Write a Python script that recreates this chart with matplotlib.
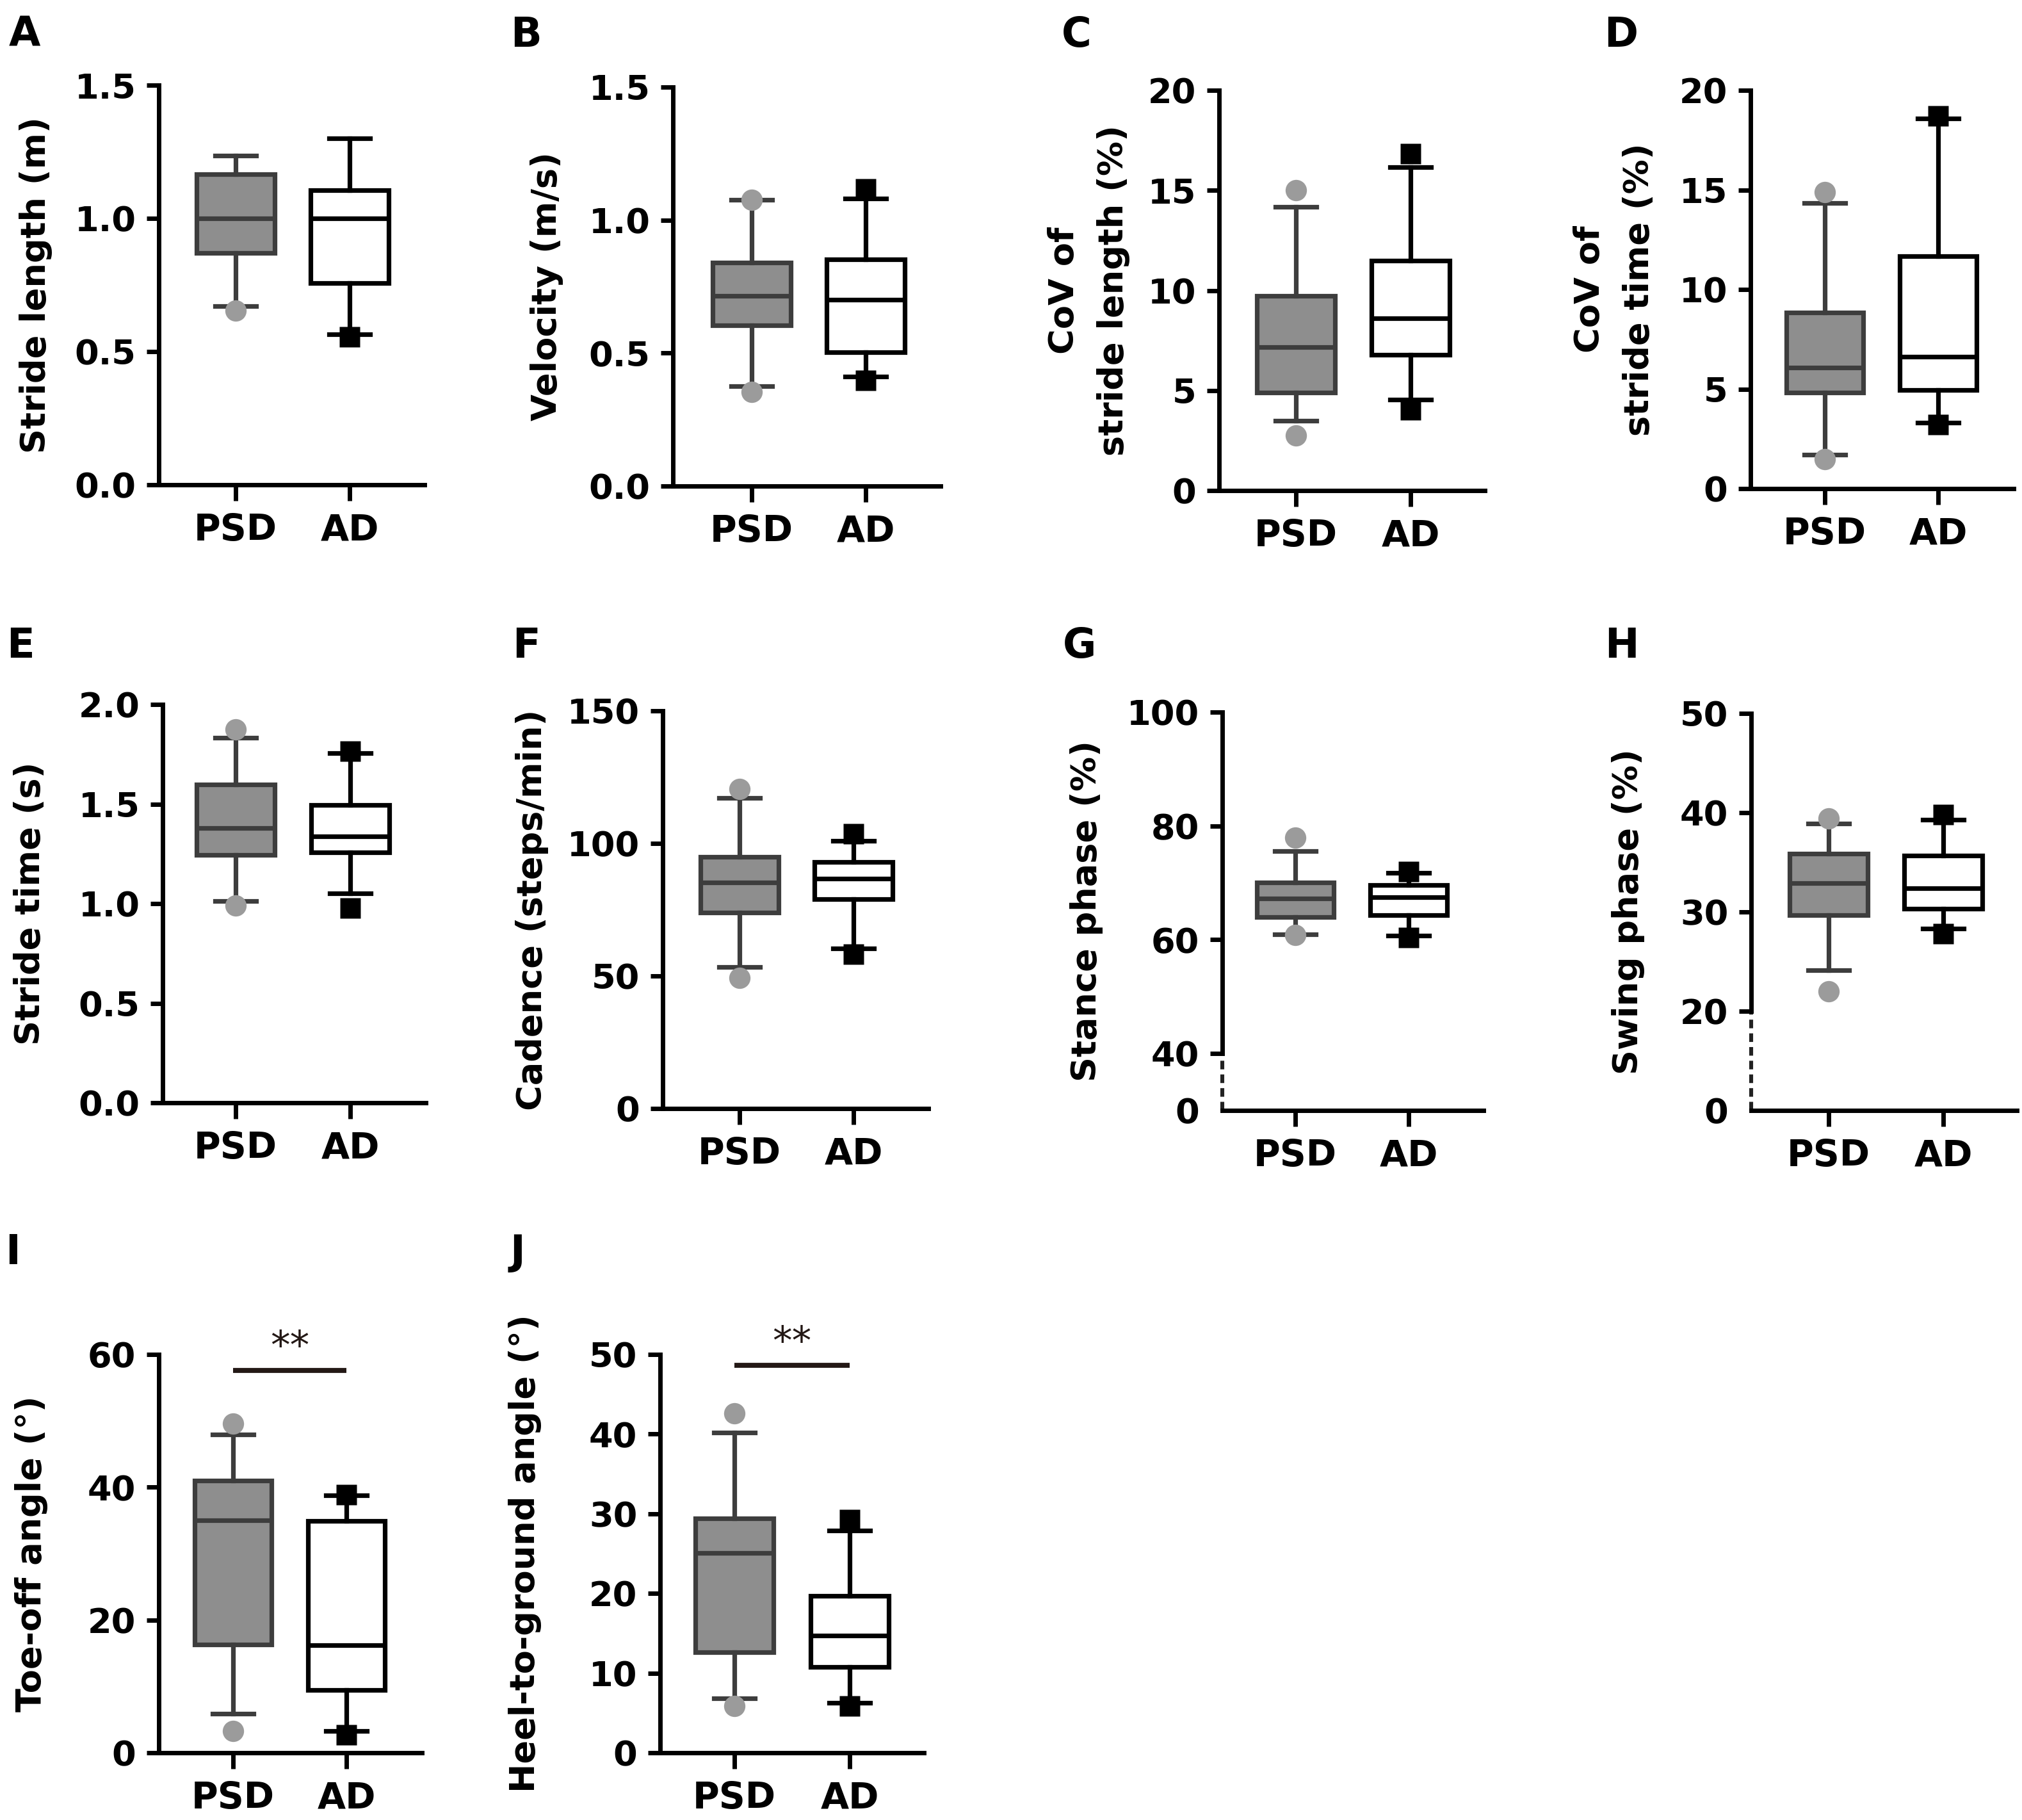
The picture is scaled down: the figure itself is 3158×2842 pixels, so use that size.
import matplotlib.pyplot as plt
from matplotlib.ticker import FixedFormatter

plt.rcParams['font.family'] = ['DejaVu Sans']
plt.rcParams['font.weight'] = 'bold'

groups = ['PSD', 'AD']

# box summaries: whisker low, Q1, median, Q3, whisker high
stride_length_psd = [0.67, 0.87, 1.00, 1.165, 1.235]
stride_length_ad = [0.565, 0.757, 1.00, 1.105, 1.30]
stride_length_out_psd = [0.653]
stride_length_out_ad = [0.555]

velocity_psd = [0.376, 0.604, 0.716, 0.84, 1.076]
velocity_ad = [0.411, 0.503, 0.701, 0.853, 1.08]
velocity_out_psd = [1.076, 0.355]
velocity_out_ad = [1.116, 0.397]

cov_length_psd = [3.49, 4.9, 7.16, 9.72, 14.18]
cov_length_ad = [4.53, 6.79, 8.62, 11.5, 16.15]
cov_length_out_psd = [15.0, 2.75]
cov_length_out_ad = [16.83, 4.04]

cov_time_psd = [1.70, 4.83, 6.08, 8.85, 14.33]
cov_time_ad = [3.32, 4.94, 6.63, 11.67, 18.6]
cov_time_out_psd = [14.88, 1.47]
cov_time_out_ad = [18.7, 3.22]

stride_time_psd = [1.012, 1.243, 1.381, 1.597, 1.834]
stride_time_ad = [1.053, 1.256, 1.339, 1.496, 1.755]
stride_time_out_psd = [1.874, 0.99]
stride_time_out_ad = [1.765, 0.979]

cadence_psd = [53.4, 73.8, 85.3, 94.9, 117.1]
cadence_ad = [60.3, 79.0, 86.6, 92.9, 100.9]
cadence_out_psd = [120.6, 49.2]
cadence_out_ad = [103.7, 58.2]

stance_psd = [61.0, 64.0, 67.3, 70.1, 75.6]
stance_ad = [60.7, 64.3, 67.5, 69.6, 71.7]
stance_out_psd = [77.9, 60.8]
stance_out_ad = [72.0, 60.4]

swing_psd = [24.1, 29.7, 32.9, 35.9, 38.9]
swing_ad = [28.3, 30.3, 32.4, 35.7, 39.3]
swing_out_psd = [39.4, 22.0]
swing_out_ad = [39.8, 27.8]

toe_off_psd = [5.9, 16.3, 35.0, 41.0, 47.9]
toe_off_ad = [3.3, 9.5, 16.2, 34.9, 38.8]
toe_off_out_psd = [49.6, 3.3]
toe_off_out_ad = [38.9, 2.7]

heel_psd = [6.8, 12.6, 25.1, 29.4, 40.2]
heel_ad = [6.3, 10.8, 14.7, 19.7, 27.9]
heel_out_psd = [42.6, 5.9]
heel_out_ad = [29.3, 5.9]

toe_off_sig_y = 57.6
heel_sig_y = 48.6

# y ticks and their labels
ticks_a = [0.0, 0.5, 1.0, 1.5]
ticks_c = [0, 5, 10, 15, 20]
ticks_e = [0.0, 0.5, 1.0, 1.5, 2.0]
ticks_f = [0, 50, 100, 150]
ticks_g = [30, 40, 60, 80, 100]
labels_g = ['0', '40', '60', '80', '100']
ticks_h = [10, 20, 30, 40, 50]
labels_h = ['0', '20', '30', '40', '50']
ticks_i = [0, 20, 40, 60]
ticks_j = [0, 10, 20, 30, 40, 50]

W, H = 3158, 2842
fig = plt.figure(figsize=(W / 200, H / 200), dpi=200)

PSD_FACE = '#8e8e8e'
PSD_LINE = '#3d3d3d'
PSD_DOT = '#9b9b9b'


def summary(vals, out):
    lo, q1, med, q3, hi = vals
    return dict(whislo=lo, q1=q1, med=med, q3=q3, whishi=hi, fliers=out)


def panel(letter, px, ylabel, psd, ad, out_psd, out_ad, ticks, labels,
          ylim, label_x, broken=None, sig=None):
    L, R, T, B, p0, p1 = px
    ax = fig.add_axes([L / W, 1 - B / H, (R - L) / W, (B - T) / H])
    lw = 2.6
    ax.bxp([summary(psd, out_psd)], positions=[0], widths=0.68,
           capwidths=0.36, patch_artist=True, manage_ticks=False,
           boxprops=dict(facecolor=PSD_FACE, edgecolor=PSD_LINE, linewidth=lw),
           whiskerprops=dict(color=PSD_LINE, linewidth=lw),
           capprops=dict(color=PSD_LINE, linewidth=lw),
           medianprops=dict(color=PSD_LINE, linewidth=lw),
           flierprops=dict(marker='o', markerfacecolor=PSD_DOT,
                           markeredgecolor='none', markersize=12))
    ax.bxp([summary(ad, out_ad)], positions=[1], widths=0.68,
           capwidths=0.36, patch_artist=True, manage_ticks=False,
           boxprops=dict(facecolor='white', edgecolor='black', linewidth=lw),
           whiskerprops=dict(color='black', linewidth=lw),
           capprops=dict(color='black', linewidth=lw),
           medianprops=dict(color='black', linewidth=lw),
           flierprops=dict(marker='s', markerfacecolor='black',
                           markeredgecolor='none', markersize=11.5))
    ax.set_xlim((L - p0) / (p1 - p0), (R - p0) / (p1 - p0))
    ax.set_ylim(*ylim)
    ax.set_xticks([0, 1])
    ax.set_xticklabels(groups)
    ax.set_yticks(ticks)
    if labels is not None:
        ax.yaxis.set_major_formatter(FixedFormatter(labels))
    for s in ['top', 'right']:
        ax.spines[s].set_visible(False)
    for s in ['left', 'bottom']:
        ax.spines[s].set_linewidth(2.5)
    ax.tick_params(axis='y', length=6.8, width=2.5, labelsize=19.5, pad=6)
    ax.tick_params(axis='x', length=9, width=2.5, labelsize=20.5, pad=7)
    ax.set_ylabel(ylabel, fontsize=19.5, fontweight='bold', linespacing=1.6)
    ax.yaxis.set_label_coords(label_x, 0.5)
    if broken is not None:
        ax.spines['left'].set_bounds(broken, ylim[1])
        ax.plot([0, 0], [ylim[0], broken], transform=ax.get_yaxis_transform(),
                color='#222222', lw=2.2, ls=(0, (2.2, 1.3)), clip_on=False)
        ax.yaxis.get_major_ticks()[0].tick1line.set_visible(False)
    if sig is not None:
        ax.plot([0, 1], [sig, sig], color='#231815', lw=2.8, clip_on=False,
                solid_capstyle='butt')
        ax.annotate('**', (0.5, sig), xytext=(0, 2), textcoords='offset points',
                    ha='center', va='bottom', fontsize=22, fontweight='normal',
                    color='#231815', annotation_clip=False)
    return ax


# pixel layout: left, right, top, bottom of each frame, and x of PSD / AD
panel('A', (248, 663, 133, 757, 368, 546), 'Stride length (m)',
      stride_length_psd, stride_length_ad, stride_length_out_psd,
      stride_length_out_ad, ticks_a, ['0.0', '0.5', '1.0', '1.5'], (0, 1.5), -0.40)
panel('B', (1051, 1469, 136, 759, 1174, 1352), 'Velocity (m/s)',
      velocity_psd, velocity_ad, velocity_out_psd, velocity_out_ad,
      ticks_a, ['0.0', '0.5', '1.0', '1.5'], (0, 1.5), -0.41)
panel('C', (1904, 2319, 141, 766, 2024, 2203), 'CoV of\nstride length (%)',
      cov_length_psd, cov_length_ad, cov_length_out_psd, cov_length_out_ad,
      ticks_c, None, (0, 20), -0.335)
panel('D', (2734, 3145, 141, 763, 2850, 3027), 'CoV of\nstride time (%)',
      cov_time_psd, cov_time_ad, cov_time_out_psd, cov_time_out_ad,
      ticks_c, None, (0, 20), -0.36)
panel('E', (254, 665, 1100, 1722, 368, 547), 'Stride time (s)',
      stride_time_psd, stride_time_ad, stride_time_out_psd, stride_time_out_ad,
      ticks_e, ['0.0', '0.5', '1.0', '1.5', '2.0'], (0, 2.0), -0.44)
panel('F', (1035, 1450, 1110, 1731, 1155, 1333), 'Cadence (steps/min)',
      cadence_psd, cadence_ad, cadence_out_psd, cadence_out_ad,
      ticks_f, None, (0, 150), -0.43)
panel('G', (1909, 2317, 1112, 1734, 2023, 2200), 'Stance phase (%)',
      stance_psd, stance_ad, stance_out_psd, stance_out_ad,
      ticks_g, labels_g, (30, 100), -0.456, broken=40)
panel('H', (2735, 3150, 1114, 1734, 2856, 3035), 'Swing phase (%)',
      swing_psd, swing_ad, swing_out_psd, swing_out_ad,
      ticks_h, labels_h, (10, 50), -0.40, broken=20)
panel('I', (248, 659, 2115, 2737, 364, 541), 'Toe-off angle (°)',
      toe_off_psd, toe_off_ad, toe_off_out_psd, toe_off_out_ad,
      ticks_i, None, (0, 60), -0.42, sig=toe_off_sig_y)
panel('J', (1031, 1443, 2115, 2737, 1147, 1327), 'Heel-to-ground angle (°)',
      heel_psd, heel_ad, heel_out_psd, heel_out_ad,
      ticks_j, None, (0, 50), -0.45, sig=heel_sig_y)

# panel letters
letters = ['A', 'B', 'C', 'D', 'E', 'F', 'G', 'H', 'I', 'J']
letter_xy = [(14, 24), (797, 24), (1658, 24), (2505, 24),
             (10, 978), (800, 978), (1660, 978), (2506, 978),
             (8, 1925), (797, 1925)]
for t, (x, y) in zip(letters, letter_xy):
    fig.text(x / W, 1 - y / H, t, fontsize=23, fontweight='bold',
             ha='left', va='top')

fig.savefig('out.png', dpi=200)
